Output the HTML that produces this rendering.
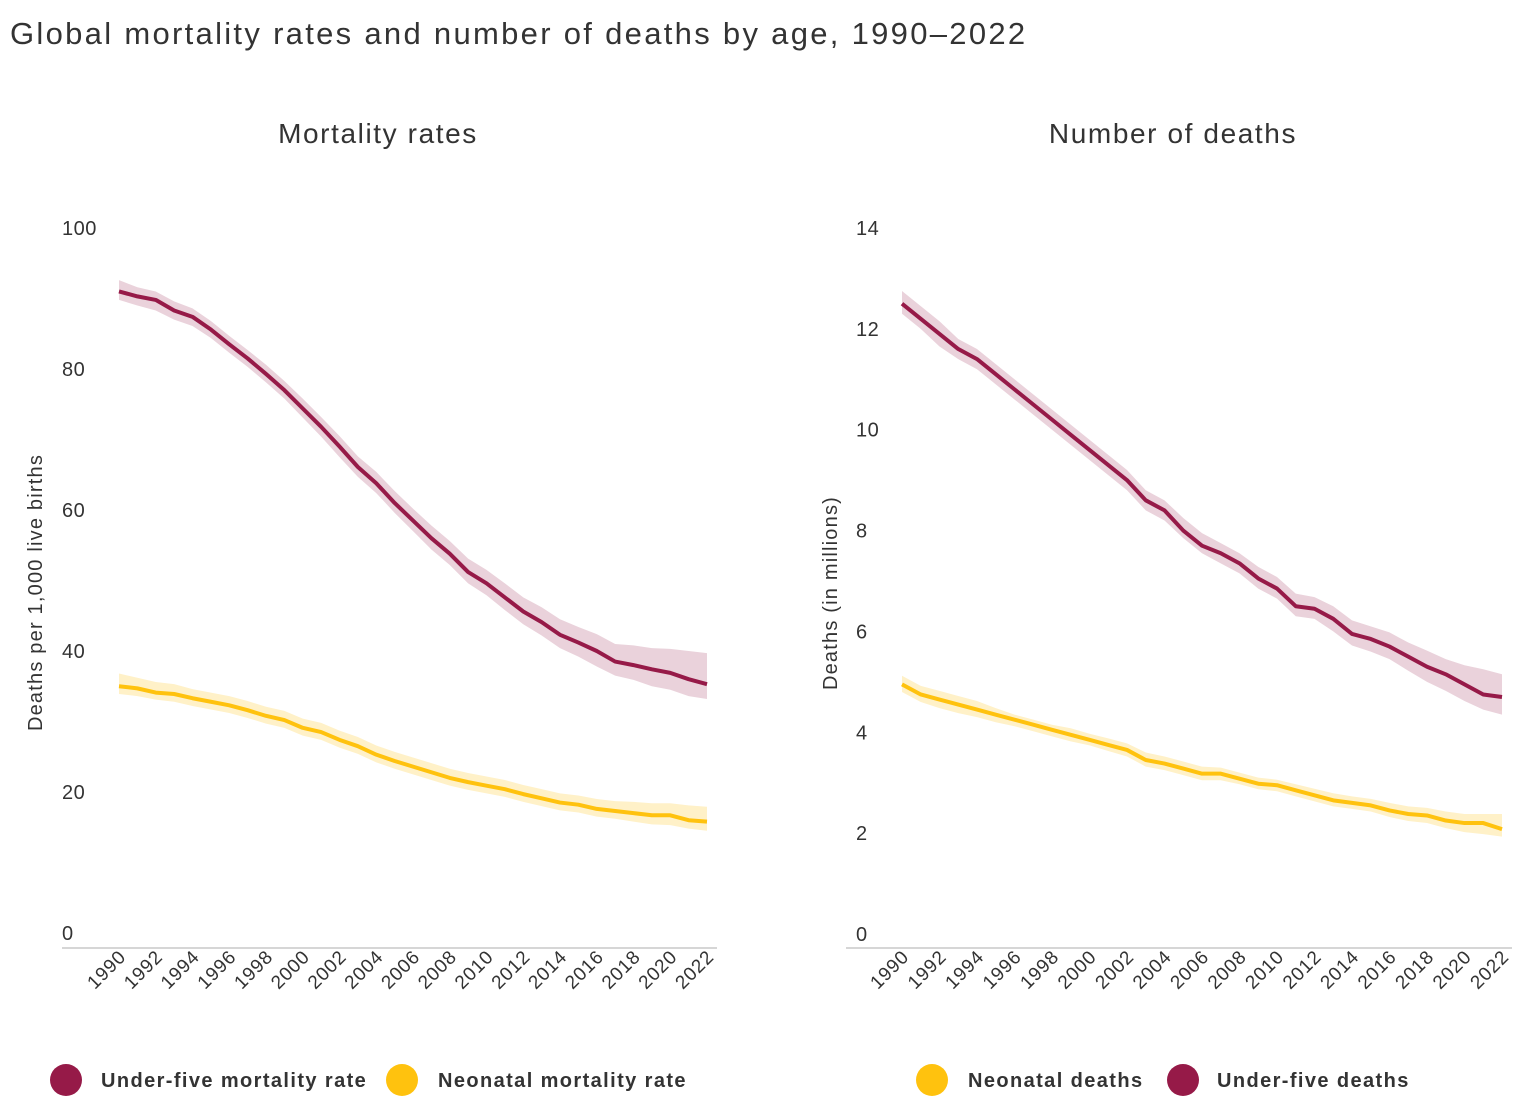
<!DOCTYPE html>
<html><head><meta charset="utf-8"><style>
body{margin:0;background:#fff;font-family:"Liberation Sans",sans-serif;}
svg text{font-family:"Liberation Sans",sans-serif;}
</style></head><body>
<svg id="c" width="1530" height="1112" xmlns="http://www.w3.org/2000/svg">
<text x="10" y="44" font-size="31" letter-spacing="2.3" fill="#333">Global mortality rates and number of deaths by age, 1990–2022</text>
<text x="378" y="143" font-size="28" letter-spacing="1.6" fill="#333" text-anchor="middle">Mortality rates</text>
<text x="1173" y="143" font-size="28" letter-spacing="1.6" fill="#333" text-anchor="middle">Number of deaths</text>
<g id="L"></g>
<g id="R"></g>
<g>
<circle cx="66" cy="1080" r="16" fill="#961a48"/>
<text x="101" y="1087" font-size="20" letter-spacing="1.4" font-weight="bold" fill="#333">Under-five mortality rate</text>
<circle cx="402" cy="1080" r="16" fill="#ffc20e"/>
<text x="438" y="1087" font-size="20" letter-spacing="1.4" font-weight="bold" fill="#333">Neonatal mortality rate</text>
</g>
<g>
<circle cx="932" cy="1080" r="16" fill="#ffc20e"/>
<text x="968" y="1087" font-size="20" letter-spacing="1.4" font-weight="bold" fill="#333">Neonatal deaths</text>
<circle cx="1183" cy="1080" r="16" fill="#961a48"/>
<text x="1217" y="1087" font-size="20" letter-spacing="1.4" font-weight="bold" fill="#333">Under-five deaths</text>
</g>
</svg>
<script>
const years=[1990,1991,1992,1993,1994,1995,1996,1997,1998,1999,2000,2001,2002,2003,2004,2005,2006,2007,2008,2009,2010,2011,2012,2013,2014,2015,2016,2017,2018,2019,2020,2021,2022];
const u5Rate=[91,90.3,89.8,88.3,87.4,85.6,83.5,81.5,79.3,77,74.4,71.8,69,66.1,63.8,61,58.5,56,53.8,51.2,49.6,47.6,45.6,44.1,42.3,41.2,40,38.5,38,37.4,36.9,36,35.3];
const u5RateHi=[92.6,91.6,91,89.6,88.6,86.8,84.7,82.7,80.6,78.3,75.8,73.2,70.5,67.6,65.4,62.7,60.2,57.8,55.6,53.1,51.5,49.6,47.6,46.2,44.5,43.4,42.4,41,40.8,40.4,40.3,40,39.7];
const u5RateLo=[89.8,89,88.3,87,86.1,84.4,82.3,80.3,78.1,75.8,73.1,70.4,67.5,64.7,62.4,59.6,57,54.4,52.2,49.6,47.9,45.8,43.8,42.2,40.4,39.2,37.8,36.5,35.9,35,34.5,33.6,33.2];
const nnRate=[35,34.7,34.1,33.9,33.3,32.8,32.3,31.6,30.8,30.2,29.1,28.5,27.4,26.5,25.3,24.4,23.6,22.8,22,21.4,20.9,20.4,19.7,19.1,18.5,18.2,17.6,17.3,17,16.7,16.7,16,15.8];
const nnRateHi=[36.8,36.2,35.6,35.3,34.6,34.1,33.6,32.9,32.1,31.5,30.4,29.8,28.7,27.8,26.6,25.7,24.9,24.1,23.3,22.7,22.2,21.7,21,20.4,19.8,19.5,19,18.7,18.6,18.4,18.4,18.1,17.9];
const nnRateLo=[33.9,33.6,33.1,32.8,32.2,31.7,31.2,30.5,29.7,29.1,28,27.4,26.3,25.4,24.2,23.3,22.5,21.7,20.9,20.3,19.8,19.3,18.6,18,17.4,17.1,16.5,16.2,15.8,15.4,15.3,14.8,14.5];
const u5Deaths=[12.5,12.2,11.9,11.6,11.4,11.1,10.8,10.5,10.2,9.9,9.6,9.3,9.0,8.6,8.4,8.0,7.7,7.55,7.35,7.05,6.85,6.5,6.45,6.25,5.95,5.85,5.7,5.5,5.3,5.15,4.95,4.75,4.7];
const u5DeathsHi=[12.75,12.45,12.15,11.8,11.6,11.3,11.0,10.7,10.4,10.1,9.8,9.5,9.2,8.8,8.6,8.25,7.95,7.75,7.55,7.28,7.08,6.75,6.68,6.5,6.22,6.1,5.98,5.78,5.62,5.45,5.33,5.25,5.15];
const u5DeathsLo=[12.3,12.0,11.65,11.4,11.2,10.9,10.6,10.3,10.0,9.7,9.4,9.1,8.8,8.4,8.2,7.85,7.55,7.35,7.15,6.85,6.65,6.3,6.25,6.0,5.72,5.6,5.45,5.22,5.0,4.82,4.62,4.45,4.35];
const nnDeaths=[4.95,4.75,4.65,4.55,4.45,4.35,4.25,4.15,4.05,3.95,3.85,3.75,3.65,3.45,3.38,3.28,3.18,3.18,3.08,2.98,2.95,2.85,2.75,2.65,2.6,2.55,2.45,2.38,2.35,2.25,2.2,2.2,2.08];
const nnDeathsHi=[5.12,4.92,4.82,4.72,4.62,4.48,4.35,4.25,4.15,4.08,3.97,3.88,3.78,3.6,3.52,3.42,3.32,3.3,3.2,3.1,3.06,2.97,2.88,2.79,2.73,2.68,2.6,2.53,2.5,2.43,2.38,2.38,2.38];
const nnDeathsLo=[4.8,4.6,4.48,4.38,4.3,4.2,4.12,4.02,3.92,3.82,3.74,3.63,3.52,3.32,3.25,3.15,3.05,3.05,2.97,2.87,2.83,2.73,2.63,2.53,2.48,2.43,2.32,2.24,2.2,2.1,2.02,1.98,1.93];
const leftTicks=[0,20,40,60,80,100];
const rightTicks=[0,2,4,6,8,10,12,14];
const NS="http://www.w3.org/2000/svg";
function mk(p,t,a){const e=document.createElementNS(NS,t);for(const k in a)e.setAttribute(k,a[k]);p.appendChild(e);return e;}
function panel(g,cfg){
  const xs=y=>cfg.x0+(y-1990)*(cfg.x1-cfg.x0)/32;
  const ys=v=>cfg.y0-v*(cfg.y0-cfg.yTop)/cfg.max;
  const base=mk(g,'line',{x1:cfg.bx0,x2:cfg.bx1,y1:948,y2:948,stroke:'#d6d6d6','stroke-width':2});
  
  
  cfg.ticks.forEach(t=>{const e=mk(g,'text',{x:cfg.lx,y:ys(t)+7,'font-size':20,'letter-spacing':0.5,fill:'#333'});e.textContent=t;
    
    });
  years.forEach(y=>{if((y-1990)%2)return;const x=xs(y)+8;const e=mk(g,'text',{x:x,y:958,'font-size':19,'letter-spacing':0.8,fill:'#333','text-anchor':'end',transform:`rotate(-45 ${x} 958)`});e.textContent=y;
    
    });
  const at=mk(g,'text',{x:0,y:0,'font-size':20,'letter-spacing':1.2,fill:'#333','text-anchor':'middle',transform:`translate(${cfg.tx},${(ys(0)+ys(cfg.max))/2+12}) rotate(-90)`});at.textContent=cfg.title;
  
  
  cfg.series.forEach(s=>{
    let d='M'+years.map((y,i)=>xs(y)+','+ys(s.hi[i])).join('L')+'L'+years.slice().reverse().map((y,j)=>xs(y)+','+ys(s.lo[32-j])).join('L')+'Z';
    const b=mk(g,'path',{d:d,fill:s.band});
    
    
    const l=mk(g,'path',{d:'M'+years.map((y,i)=>xs(y)+','+ys(s.v[i])).join('L'),fill:'none',stroke:s.color,'stroke-width':4,'stroke-linejoin':'round'});
    
    
  });
}
panel(document.getElementById('L'),{x0:119,x1:707,y0:933,yTop:228,max:100,bx0:62,bx1:717,lx:62,tx:42,ticks:leftTicks,title:'Deaths per 1,000 live births',
 series:[{name:'under-five-rate',v:u5Rate,hi:u5RateHi,lo:u5RateLo,color:'#961a48',band:'#ead2db'},{name:'neonatal-rate',v:nnRate,hi:nnRateHi,lo:nnRateLo,color:'#ffc20e',band:'#fff1c8'}]});
panel(document.getElementById('R'),{x0:902,x1:1502,y0:934,yTop:228,max:14,bx0:846,bx1:1512,lx:856,tx:837,ticks:rightTicks,title:'Deaths (in millions)',
 series:[{name:'under-five-deaths',v:u5Deaths,hi:u5DeathsHi,lo:u5DeathsLo,color:'#961a48',band:'#ead2db'},{name:'neonatal-deaths',v:nnDeaths,hi:nnDeathsHi,lo:nnDeathsLo,color:'#ffc20e',band:'#fff1c8'}]});
</script>
</body></html>
